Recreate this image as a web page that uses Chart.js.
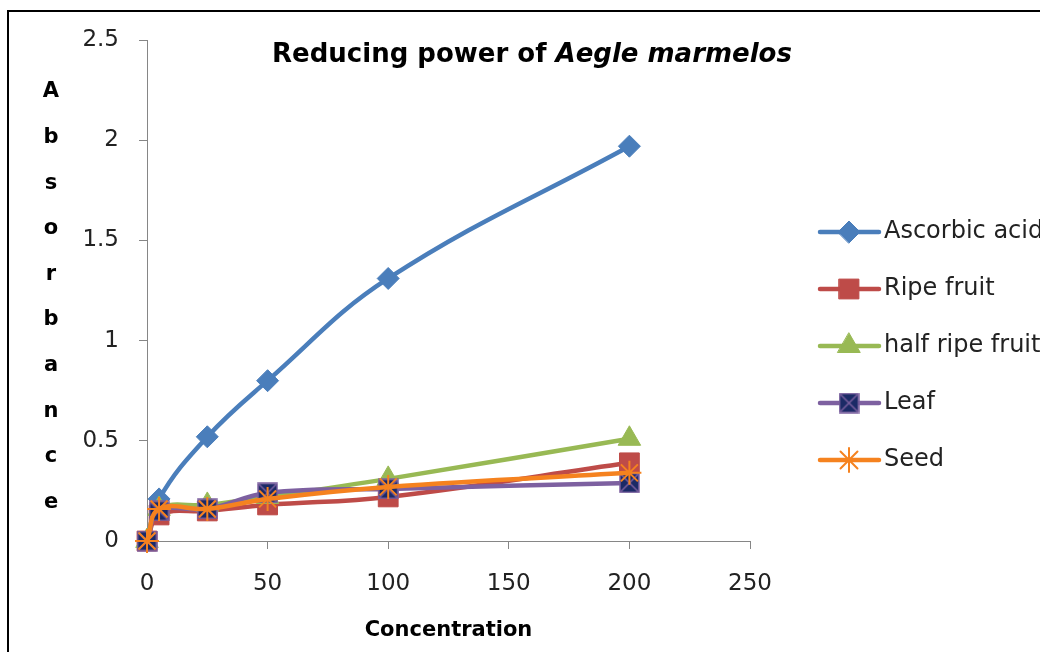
<!DOCTYPE html>
<html>
<head>
    <title>Reducing power of Aegle marmelos</title>
    <script src="https://cdn.jsdelivr.net/npm/chart.js"></script>
    <style>
        html, body { margin: 0; padding: 0; overflow: hidden; background: #fff; }
        .frame {
            position: absolute; left: 7px; top: 10px;
            width: 1100px; height: 700px;
            border: 2px solid #000;
        }
        .chart-container {
            position: absolute; left: 0; top: 0;
            width: 1040px; height: 652px;
        }
    </style>
</head>
<body>
    <div class="frame"></div>
    <div class="chart-container">
        <canvas id="chart" width="1040" height="652"></canvas>
    </div>

    <script>
        // data
        const concentration = [0, 5, 25, 50, 100, 200];
        const ascorbicAcid  = [0, 0.21, 0.52, 0.80, 1.31, 1.97];
        const ripeFruit     = [0, 0.13, 0.15, 0.18, 0.22, 0.39];
        const halfRipeFruit = [0, 0.16, 0.18, 0.22, 0.31, 0.51];
        const leaf          = [0, 0.15, 0.16, 0.24, 0.26, 0.29];
        const seed          = [0, 0.16, 0.16, 0.21, 0.27, 0.34];
        const seriesNames = ['Ascorbic acid', 'Ripe fruit', 'half ripe fruit', 'Leaf', 'Seed'];
        const yLetters = ['A', 'b', 's', 'o', 'r', 'b', 'a', 'n', 'c', 'e'];

        const FONT = "'DejaVu Sans', sans-serif";

        function pts(vals) {
            return concentration.map((c, i) => ({ x: c, y: vals[i] }));
        }

        // leaf marker: navy square with purple cross
        function leafMarker() {
            const c = document.createElement('canvas');
            c.width = 21; c.height = 21;
            const g = c.getContext('2d');
            g.fillStyle = '#1b2a66';
            g.fillRect(1, 1, 19, 19);
            g.strokeStyle = '#7d60a0';
            g.lineWidth = 1.5;
            g.strokeRect(1, 1, 19, 19);
            g.beginPath();
            g.moveTo(2, 2); g.lineTo(19, 19);
            g.moveTo(19, 2); g.lineTo(2, 19);
            g.stroke();
            return c;
        }
        const leafImg = leafMarker();

        const datasets = [
            { label: seriesNames[0], data: pts(ascorbicAcid), borderColor: '#4a7ebb', backgroundColor: '#4a7ebb',
              pointStyle: 'rectRot', pointRadius: 11, order: 5 },
            { label: seriesNames[1], data: pts(ripeFruit), borderColor: '#be4b48', backgroundColor: '#be4b48',
              pointStyle: 'rect', pointRadius: 14, order: 4 },
            { label: seriesNames[2], data: pts(halfRipeFruit), borderColor: '#98b954', backgroundColor: '#98b954',
              pointStyle: 'triangle', pointRadius: 13, order: 3 },
            { label: seriesNames[3], data: pts(leaf), borderColor: '#7d60a0', backgroundColor: '#1b2a66',
              pointStyle: leafImg, pointRadius: 10, order: 2 },
            { label: seriesNames[4], data: pts(seed), borderColor: '#f5821f', backgroundColor: '#f5821f',
              pointStyle: 'star', pointRadius: 12, pointBorderWidth: 2, order: 1 }
        ].map(d => Object.assign({
            borderWidth: 4.5,
            tension: 0.4,
            pointBorderWidth: 1,
            clip: false
        }, d));

        // title, y label letters and legend
        const decorations = {
            id: 'decorations',
            afterDraw(chart) {
                const ctx = chart.ctx;
                ctx.save();
                // title
                const a = 'Reducing power of ', b = 'Aegle marmelos';
                ctx.textBaseline = 'middle';
                ctx.fillStyle = '#000';
                ctx.font = 'bold 26px ' + FONT;
                const wa = ctx.measureText(a).width;
                ctx.font = 'italic bold 26px ' + FONT;
                const wb = ctx.measureText(b).width;
                let x = 532 - (wa + wb) / 2;
                ctx.textAlign = 'left';
                ctx.font = 'bold 26px ' + FONT;
                ctx.fillText(a, x, 55);
                ctx.font = 'italic bold 26px ' + FONT;
                ctx.fillText(b, x + wa, 55);

                // vertical stacked y title
                ctx.font = 'bold 21px ' + FONT;
                ctx.textAlign = 'center';
                yLetters.forEach((ch, i) => ctx.fillText(ch, 51, 92 + i * 45.6));

                // legend
                chart.data.datasets.forEach((ds, i) => {
                    const y = 232 + i * 57;
                    ctx.strokeStyle = ds.borderColor;
                    ctx.lineWidth = 4.5;
                    ctx.lineCap = 'round';
                    ctx.beginPath();
                    ctx.moveTo(820, y); ctx.lineTo(879, y);
                    ctx.stroke();
                    ctx.fillStyle = ds.backgroundColor;
                    ctx.strokeStyle = ds.borderColor;
                    ctx.lineWidth = ds.pointBorderWidth;
                    Chart.helpers.drawPoint(ctx, {
                        pointStyle: ds.pointStyle, radius: ds.pointRadius, rotation: 0,
                        borderWidth: ds.pointBorderWidth
                    }, 849, y);
                    ctx.fillStyle = '#222';
                    ctx.font = '24px ' + FONT;
                    ctx.textAlign = 'left';
                    ctx.fillText(ds.label, 884, y);
                });
                ctx.restore();
            }
        };

        new Chart(document.getElementById('chart'), {
            type: 'line',
            data: { datasets: datasets },
            plugins: [decorations],
            options: {
                responsive: false,
                animation: false,
                layout: { padding: { left: 0, top: 40, right: 290, bottom: 0 } },
                plugins: {
                    legend: { display: false },
                    title: { display: false },
                    tooltip: { enabled: false }
                },
                scales: {
                    x: {
                        type: 'linear',
                        min: 0, max: 250,
                        ticks: { stepSize: 50, color: '#222', font: { family: FONT, size: 23 }, padding: 21, maxRotation: 0 },
                        grid: { drawOnChartArea: false, color: '#868686', tickLength: 8 },
                        border: { color: '#868686', width: 1 },
                        title: { display: true, text: 'Concentration', color: '#000',
                                 font: { family: FONT, size: 21, weight: 'bold' }, padding: { top: 0, bottom: 9 } },
                        afterFit(scale) { scale.height = 111; }
                    },
                    y: {
                        min: 0, max: 2.5,
                        ticks: { stepSize: 0.5, color: '#222', font: { family: FONT, size: 23 }, padding: 20,
                                 callback: v => String(v) },
                        grid: { drawOnChartArea: false, color: '#868686', tickLength: 8 },
                        border: { color: '#868686', width: 1 },
                        afterFit(scale) { scale.width = 147; }
                    }
                }
            }
        });
    </script>
</body>
</html>
